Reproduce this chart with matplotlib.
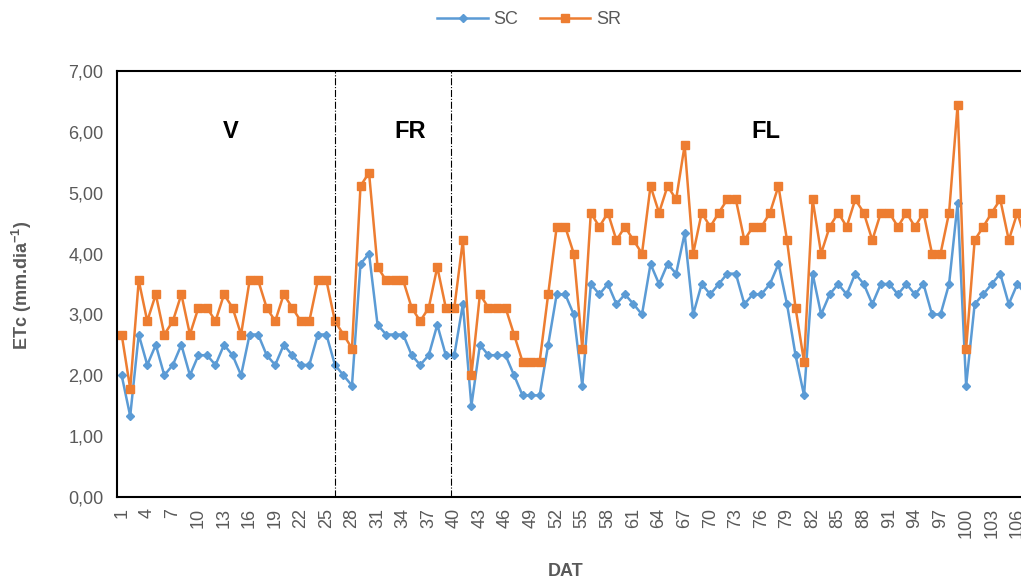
import matplotlib
matplotlib.use('Agg')
import numpy as np
from matplotlib import pyplot as plt

plt.rcParams['font.family'] = ['Liberation Sans', 'DejaVu Sans']
plt.rcParams['mathtext.fontset'] = 'custom'
plt.rcParams['mathtext.rm'] = 'Liberation Sans:bold'
plt.rcParams['mathtext.bf'] = 'Liberation Sans:bold'

# ETc per day after transplanting (DAT)
sc = [2.00, 1.33, 2.67, 2.17, 2.50, 2.00, 2.17, 2.50, 2.00, 2.33,
      2.33, 2.17, 2.50, 2.33, 2.00, 2.67, 2.67, 2.33, 2.17, 2.50,
      2.33, 2.17, 2.17, 2.67, 2.67, 2.17, 2.00, 1.83, 3.83, 4.00,
      2.83, 2.67, 2.67, 2.67, 2.33, 2.17, 2.33, 2.83, 2.33, 2.33,
      3.17, 1.50, 2.50, 2.33, 2.33, 2.33, 2.00, 1.67, 1.67, 1.67,
      2.50, 3.33, 3.33, 3.00, 1.83, 3.50, 3.33, 3.50, 3.17, 3.33,
      3.17, 3.00, 3.83, 3.50, 3.83, 3.67, 4.33, 3.00, 3.50, 3.33,
      3.50, 3.67, 3.67, 3.17, 3.33, 3.33, 3.50, 3.83, 3.17, 2.33,
      1.67, 3.67, 3.00, 3.33, 3.50, 3.33, 3.67, 3.50, 3.17, 3.50,
      3.50, 3.33, 3.50, 3.33, 3.50, 3.00, 3.00, 3.50, 4.83, 1.83,
      3.17, 3.33, 3.50, 3.67, 3.17, 3.50, 3.33]
sr = [2.67, 1.78, 3.56, 2.89, 3.33, 2.67, 2.89, 3.33, 2.67, 3.11,
      3.11, 2.89, 3.33, 3.11, 2.67, 3.56, 3.56, 3.11, 2.89, 3.33,
      3.11, 2.89, 2.89, 3.56, 3.56, 2.89, 2.67, 2.44, 5.11, 5.33,
      3.78, 3.56, 3.56, 3.56, 3.11, 2.89, 3.11, 3.78, 3.11, 3.11,
      4.22, 2.00, 3.33, 3.11, 3.11, 3.11, 2.67, 2.22, 2.22, 2.22,
      3.33, 4.44, 4.44, 4.00, 2.44, 4.67, 4.44, 4.67, 4.22, 4.44,
      4.22, 4.00, 5.11, 4.67, 5.11, 4.89, 5.78, 4.00, 4.67, 4.44,
      4.67, 4.89, 4.89, 4.22, 4.44, 4.44, 4.67, 5.11, 4.22, 3.11,
      2.22, 4.89, 4.00, 4.44, 4.67, 4.44, 4.89, 4.67, 4.22, 4.67,
      4.67, 4.44, 4.67, 4.44, 4.67, 4.00, 4.00, 4.67, 6.44, 2.44,
      4.22, 4.44, 4.67, 4.89, 4.22, 4.67, 4.22]
dat = np.arange(1, len(sc) + 1)

phase_names = ['V', 'FR', 'FL']
phase_x = [13.8, 34.8, 76.5]
phase_bounds = [26, 39.6]

blue = '#5B9BD5'
orange = '#ED7D31'
gray = '#595959'

W, H = 1021, 582
fig = plt.figure(figsize=(W / 100, H / 100), dpi=100)
step = 8.53  # px per day; the plot runs past the right edge like the original
ax = fig.add_axes([117.4 / W, (H - 497) / H, len(sc) * step / W, 426 / H])

ax.plot(dat, sc, color=blue, lw=1.8, marker='D', ms=4, label='SC')
ax.plot(dat, sr, color=orange, lw=1.8, marker='s', ms=6, label='SR')

for b in phase_bounds:
    ax.axvline(b, color='black', lw=0.8, ls='-.')
for name, x in zip(phase_names, phase_x):
    ax.text(x, 6.0, name, ha='center', va='center', fontsize=17, fontweight='bold')

ax.set_xlim(0.5, len(sc) + 0.5)
ax.set_ylim(0, 7)
yt = np.arange(0, 8, 1)
ax.set_yticks(yt)
ax.set_yticklabels([('%.2f' % v).replace('.', ',') for v in yt])
ax.set_xticks(dat[::3])
ax.set_xticklabels([str(d) for d in dat[::3]], rotation=90)
ax.tick_params(axis='both', length=0, colors=gray, labelsize=13)
ax.tick_params(axis='y', pad=10)
ax.tick_params(axis='x', pad=8)
for s in ax.spines.values():
    s.set_linewidth(1.5)
    s.set_color('black')

fig.text(22 / W, 1 - 285 / H, 'ETc (mm.dia$^{-1}$)', rotation=90, ha='center', va='center',
         fontsize=13, fontweight='bold', color=gray)
fig.text(566 / W, 1 - 572 / H, 'DAT', ha='center', va='center',
         fontsize=13, fontweight='bold', color=gray)

fig.legend(loc='center', bbox_to_anchor=(529 / W, 1 - 20 / H), ncol=2, frameon=False,
           fontsize=13, handlelength=2.8, columnspacing=1.2, handletextpad=0.3,
           labelcolor=gray)

fig.savefig('out.png', dpi=100)
